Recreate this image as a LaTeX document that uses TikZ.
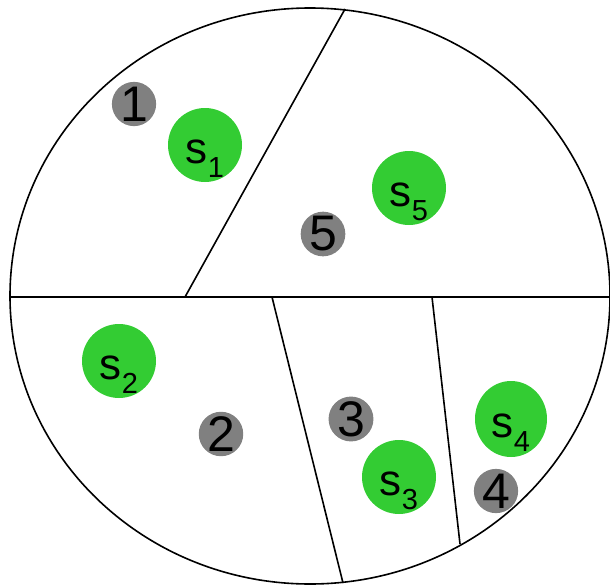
\documentclass[tikz,border=0pt]{standalone}
\usepackage{fontspec}
\setmainfont{Liberation Sans}
\usetikzlibrary{shapes.geometric}
\definecolor{sgreen}{HTML}{33CC33}
\definecolor{dgray}{HTML}{808080}
\newcommand{\ssub}[1]{s\raisebox{-14pt}{\fontsize{29}{29}\selectfont #1}}
\begin{document}
\begin{tikzpicture}[x=1pt,y=-1pt,
  site/.style={circle,fill=sgreen,minimum size=74pt,inner sep=0pt},
  sitetext/.style={anchor=base,inner sep=0pt,font=\fontsize{44}{44}\selectfont,yshift=-18pt},
  pt/.style={circle,fill=dgray,minimum size=43pt,inner sep=0pt,font=\fontsize{50}{50}\selectfont},
  edge/.style={line width=1.6pt,black}]
\useasboundingbox (0,0) rectangle (610,586);
\clip (0,0) rectangle (610,586);
\draw[edge] (310,296) ellipse [x radius=300, y radius=288];
\coordinate (hl) at (11,297);
\coordinate (hr) at (612,297);
\coordinate (a1) at (345,9);
\coordinate (a2) at (185,297);
\coordinate (b1) at (272,297);
\coordinate (b2) at (343,583);
\coordinate (c1) at (432,297);
\coordinate (c2) at (460,544);
\draw[edge] (hl) -- (hr);
\draw[edge] (a1) -- (a2);
\draw[edge] (b1) -- (b2);
\draw[edge] (c1) -- (c2);
\node[site] (s1) at (205,145) {};
\node[site] (s5) at (409,188) {};
\node[site] (s2) at (119,361) {};
\node[site] (s3) at (399,477) {};
\node[ellipse,fill=sgreen,inner sep=0pt,minimum width=72pt,minimum height=76pt] (s4) at (511,419) {};
\node[sitetext] (t1) at (s1.center) {\ssub{1}};
\node[sitetext] (t5) at (s5.center) {\ssub{5}};
\node[sitetext] (t2) at (s2.center) {\ssub{2}};
\node[sitetext] (t3) at (s3.center) {\ssub{3}};
\node[sitetext] (t4) at (s4.center) {\ssub{4}};
\node[pt] (p1) at (134,104) {1};
\node[pt] (p5) at (323,234) {5};
\node[pt] (p2) at (221,434) {2};
\node[pt] (p3) at (351,419) {3};
\node[pt,minimum size=39pt] (p4) at (496,491) {4};
\end{tikzpicture}
\end{document}
